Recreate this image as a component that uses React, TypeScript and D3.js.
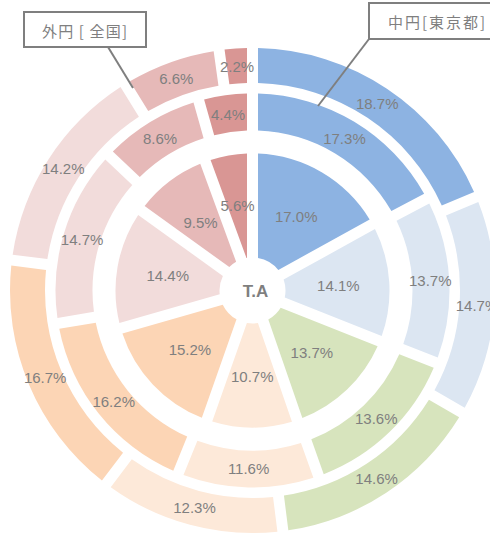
import React from "react";
import * as d3 from "d3";

const categories = ["A", "B", "C", "D", "E", "F", "G", "H"];
const innerValues = [17.0, 14.1, 13.7, 10.7, 15.2, 14.4, 9.5, 5.6]; // T.A
const middleValues = [17.3, 13.7, 13.6, 11.6, 16.2, 14.7, 8.6, 4.4]; // 東京都
const outerValues = [18.7, 14.7, 14.6, 12.3, 16.7, 14.2, 6.6, 2.2]; // 全国
const colors = ["#8DB3E2", "#DCE6F2", "#D7E4BD", "#FDE9D9", "#FCD5B5", "#F2DCDB", "#E6B9B8", "#D99694"];
const centerLabel = "T.A";
const outerCallout = "外円 [ 全国]";
const middleCallout = "中円[東京都]";

const W = 490;
const H = 534;
const cx = 252.5;
const cy = 290.5;

const rings = [
  { values: innerValues, r0: 33, r1: 137, lr: 86 },
  { values: middleValues, r0: 160, r1: 197, lr: 178 },
  { values: outerValues, r0: 207.5, r1: 242.5, lr: 225 },
];

const pie = d3
  .pie<number>()
  .sort(null)
  .value((d) => d)
  .startAngle(0)
  .endAngle(2 * Math.PI);

const fmt = d3.format(".1f");
const labelFont = "'Liberation Sans', Arial, sans-serif";
const cjkFont = "'Noto Sans CJK JP', 'Noto Sans', sans-serif";
const gray = "#7F7F7F";

export default function App() {
  return (
    <div style={{ position: "absolute", left: 0, top: 0, width: W, height: H, overflow: "hidden" }}>
      <svg width={W} height={H} style={{ display: "block", background: "#fff" }}>
        <g transform={`translate(${cx},${cy})`}>
          {rings.map((ring, ri) => {
            const arc = d3
              .arc<d3.PieArcDatum<number>>()
              .innerRadius(ring.r0)
              .outerRadius(ring.r1)
              .padAngle(11 / 200)
              .padRadius(200);
            const labelArc = d3
              .arc<d3.PieArcDatum<number>>()
              .innerRadius(ring.lr)
              .outerRadius(ring.lr);
            const arcs = pie(ring.values);
            return (
              <g key={ri}>
                {arcs.map((a, i) => (
                  <path key={categories[i]} d={arc(a) || ""} fill={colors[i]} />
                ))}
                {arcs.map((a, i) => {
                  const [x, y] = labelArc.centroid(a);
                  return (
                    <text
                      key={"t" + categories[i]}
                      x={x}
                      y={y}
                      textAnchor="middle"
                      dominantBaseline="central"
                      fontFamily={labelFont}
                      fontSize={15}
                      fill={gray}
                    >
                      {fmt(a.data)}%
                    </text>
                  );
                })}
              </g>
            );
          })}
          <text
            x={3}
            y={1}
            textAnchor="middle"
            dominantBaseline="central"
            fontFamily={labelFont}
            fontSize={17}
            fontWeight="bold"
            fill={gray}
          >
            {centerLabel}
          </text>
        </g>
        {/* callout: outer ring */}
        <line x1={108} y1={47} x2={133} y2={88} stroke={gray} strokeWidth={2} />
        <rect x={24} y={12} width={122} height={35} fill="#fff" stroke={gray} strokeWidth={2} />
        <text
          x={42}
          y={30}
          dominantBaseline="central"
          fontFamily={cjkFont}
          fontSize={15}
          fill={gray}
          textLength={85}
          lengthAdjust="spacing"
        >
          {outerCallout}
        </text>
        {/* callout: middle ring */}
        <line x1={369} y1={39} x2={318} y2={106} stroke={gray} strokeWidth={2} />
        <rect x={369} y={3} width={130} height={36} fill="#fff" stroke={gray} strokeWidth={2} />
        <text
          x={388}
          y={21}
          dominantBaseline="central"
          fontFamily={cjkFont}
          fontSize={15}
          fill={gray}
          textLength={97}
          lengthAdjust="spacing"
        >
          {middleCallout}
        </text>
      </svg>
    </div>
  );
}
